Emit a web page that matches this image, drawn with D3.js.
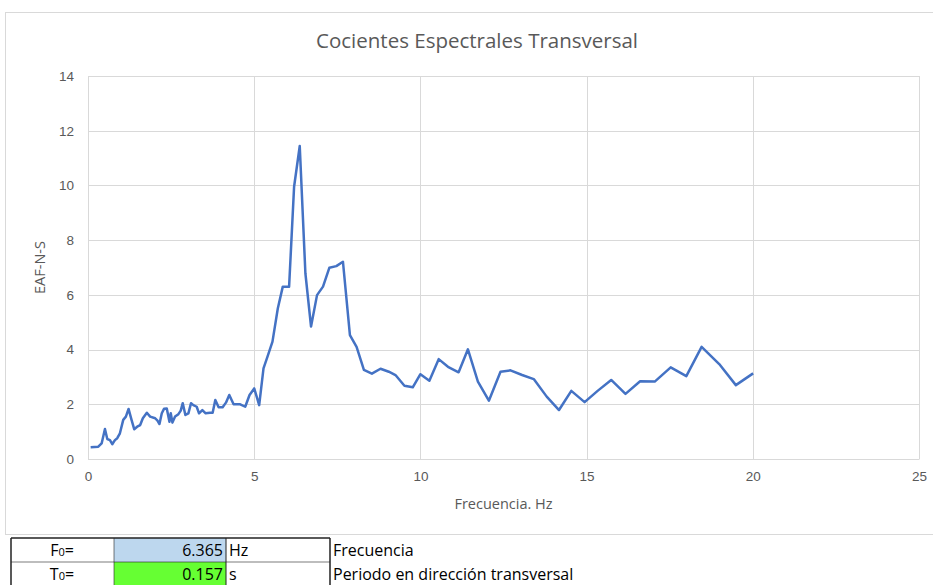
<!DOCTYPE html>
<html>
<head>
<meta charset="utf-8">
<script src="https://cdn.jsdelivr.net/npm/d3@7"></script>
<style>
  body { margin: 0; background: #ffffff; }
  svg { display: block; font-family: "Open Sans", sans-serif; }
</style>
</head>
<body>
<svg id="chart" width="933" height="585"></svg>
<script>
// datos
const frecuencias = [
  0.08, 0.31, 0.41, 0.51, 0.58, 0.66, 0.73, 0.81, 0.88, 0.96,
  1.06, 1.14, 1.22, 1.31, 1.39, 1.48, 1.57, 1.65, 1.77, 1.87,
  2.02, 2.09, 2.15, 2.22, 2.29, 2.37, 2.45, 2.49, 2.54, 2.62,
  2.72, 2.79, 2.85, 2.93, 3.02, 3.10, 3.17, 3.27, 3.34, 3.44,
  3.54, 3.67, 3.75, 3.83, 3.93, 4.05, 4.15, 4.25, 4.38, 4.58,
  4.73, 4.86, 5.00, 5.15, 5.28, 5.40, 5.55, 5.71, 5.86, 6.05,
  6.20, 6.37, 6.54, 6.71, 6.89, 7.07, 7.26, 7.47, 7.67, 7.88,
  8.08, 8.30, 8.54, 8.80, 9.05, 9.25, 9.52, 9.77, 10.00, 10.27,
  10.55, 10.83, 11.15, 11.43, 11.73, 12.06, 12.41, 12.71, 13.06, 13.41,
  13.80, 14.17, 14.54, 14.94, 15.34, 15.74, 16.17, 16.61, 17.05, 17.53,
  18.00, 18.46, 18.99, 19.49, 20.01
];
const cocientes = [
  0.43, 0.45, 0.57, 1.10, 0.73, 0.69, 0.54, 0.69, 0.76, 0.94,
  1.43, 1.55, 1.83, 1.43, 1.09, 1.18, 1.24, 1.49, 1.69, 1.55,
  1.49, 1.40, 1.28, 1.67, 1.84, 1.85, 1.36, 1.67, 1.33, 1.55,
  1.64, 1.77, 2.04, 1.61, 1.67, 2.04, 1.97, 1.91, 1.67, 1.79,
  1.67, 1.69, 1.69, 2.16, 1.89, 1.89, 2.06, 2.34, 2.00, 2.00,
  1.91, 2.34, 2.58, 1.97, 3.31, 3.74, 4.29, 5.50, 6.30, 6.30,
  9.95, 11.44, 6.79, 4.84, 5.99, 6.30, 6.99, 7.05, 7.21, 4.53,
  4.10, 3.26, 3.12, 3.30, 3.19, 3.07, 2.68, 2.62, 3.10, 2.86,
  3.65, 3.37, 3.17, 4.01, 2.83, 2.13, 3.19, 3.24, 3.07, 2.92,
  2.28, 1.79, 2.49, 2.08, 2.50, 2.89, 2.38, 2.84, 2.83, 3.35,
  3.03, 4.10, 3.47, 2.70, 3.13
];
const ticksX = [0, 5, 10, 15, 20, 25];
const ticksY = [0, 2, 4, 6, 8, 10, 12, 14];

const titulo = "Cocientes Espectrales Transversal";
const tituloX = "Frecuencia. Hz";
const tituloY = "EAF-N-S";

// tabla de resultados
const tablaEtiquetas = ["F", "T"];
const tablaValores = ["6.365", "0.157"];
const tablaUnidades = ["Hz", "s"];
const tablaDescripcion = ["Frecuencia", "Periodo en dirección transversal"];
const tablaColores = ["#bdd7ee", "#66ff33"];

const datos = frecuencias.map((f, i) => ({ x: f, y: cocientes[i] }));

const svg = d3.select("#chart");
const gris = "#595959";

// marco del grafico
svg.append("rect")
  .attr("x", 5.5).attr("y", 12.5)
  .attr("width", 940).attr("height", 522)
  .attr("fill", "#fff")
  .attr("stroke", "#d9d9d9");

const x = d3.scaleLinear().domain([0, 25]).range([88, 919]);
const y = d3.scaleLinear().domain([0, 14]).range([459, 76]);

// rejilla
svg.append("g")
  .selectAll("line")
  .data(ticksY)
  .enter()
  .append("line")
  .attr("x1", x(0)).attr("x2", x(25))
  .attr("y1", d => Math.round(y(d)) + 0.5)
  .attr("y2", d => Math.round(y(d)) + 0.5)
  .attr("stroke", "#d9d9d9");

svg.append("g")
  .selectAll("line")
  .data(ticksX)
  .enter()
  .append("line")
  .attr("x1", d => Math.round(x(d)) + 0.5)
  .attr("x2", d => Math.round(x(d)) + 0.5)
  .attr("y1", y(0)).attr("y2", y(14))
  .attr("stroke", "#d9d9d9");

// ejes
const ejeX = d3.axisBottom(x).tickValues(ticksX).tickSize(0).tickPadding(12);
const ejeY = d3.axisLeft(y).tickValues(ticksY).tickSize(0).tickPadding(14);

const gx = svg.append("g")
  .attr("transform", `translate(0, ${y(0)})`)
  .call(ejeX);
const gy = svg.append("g")
  .attr("transform", `translate(${x(0)}, 0)`)
  .call(ejeY);

[gx, gy].forEach(g => {
  g.select(".domain").attr("stroke", "#d9d9d9");
  g.selectAll("text")
    .attr("fill", gris)
    .style("font-size", "13.5px");
});

// linea de datos
const linea = d3.line()
  .x(d => x(d.x))
  .y(d => y(d.y));

svg.append("path")
  .datum(datos)
  .attr("d", linea)
  .attr("fill", "none")
  .attr("stroke", "#4472c4")
  .attr("stroke-width", 2.5)
  .attr("stroke-linejoin", "round");

// textos
svg.append("text")
  .attr("x", 477).attr("y", 48)
  .attr("text-anchor", "middle")
  .attr("fill", gris)
  .style("font-size", "20.5px")
  .text(titulo);

svg.append("text")
  .attr("x", (x(0) + x(25)) / 2).attr("y", 509)
  .attr("text-anchor", "middle")
  .attr("fill", gris)
  .style("font-size", "14.5px")
  .text(tituloX);

svg.append("text")
  .attr("transform", `translate(45, ${(y(0) + y(14)) / 2}) rotate(-90)`)
  .attr("text-anchor", "middle")
  .attr("fill", gris)
  .style("font-size", "14.5px")
  .text(tituloY);

// tabla
const filaTop = [538, 562];
const filaAlto = 24;
const tabla = svg.append("g").style("font-size", "16px");

tablaValores.forEach((v, i) => {
  const top = filaTop[i];
  tabla.append("rect")
    .attr("x", 114).attr("y", top)
    .attr("width", 112).attr("height", filaAlto)
    .attr("fill", tablaColores[i]);

  const et = tabla.append("text")
    .attr("x", 62).attr("y", top + 18)
    .attr("text-anchor", "middle");
  et.append("tspan").text(tablaEtiquetas[i]);
  et.append("tspan").style("font-size", "11px").text("0");
  et.append("tspan").text("=");

  tabla.append("text")
    .attr("x", 223).attr("y", top + 18)
    .attr("text-anchor", "end")
    .text(v);

  tabla.append("text")
    .attr("x", 229).attr("y", top + 18)
    .text(tablaUnidades[i]);

  tabla.append("text")
    .attr("x", 333).attr("y", top + 18)
    .text(tablaDescripcion[i]);
});

// bordes de la tabla
const bordes = [
  [11, 538, 330, 538, 1.5],
  [11, 562, 330, 562, 0.6],
  [11, 538, 11, 585, 1.5],
  [114, 538, 114, 585, 0.6],
  [226, 538, 226, 585, 1],
  [330, 538, 330, 585, 1.5]
];
tabla.selectAll("line")
  .data(bordes)
  .enter()
  .append("line")
  .attr("x1", d => d[0]).attr("y1", d => d[1])
  .attr("x2", d => d[2]).attr("y2", d => d[3])
  .attr("stroke", "#222")
  .attr("stroke-width", d => d[4]);
</script>
</body>
</html>
